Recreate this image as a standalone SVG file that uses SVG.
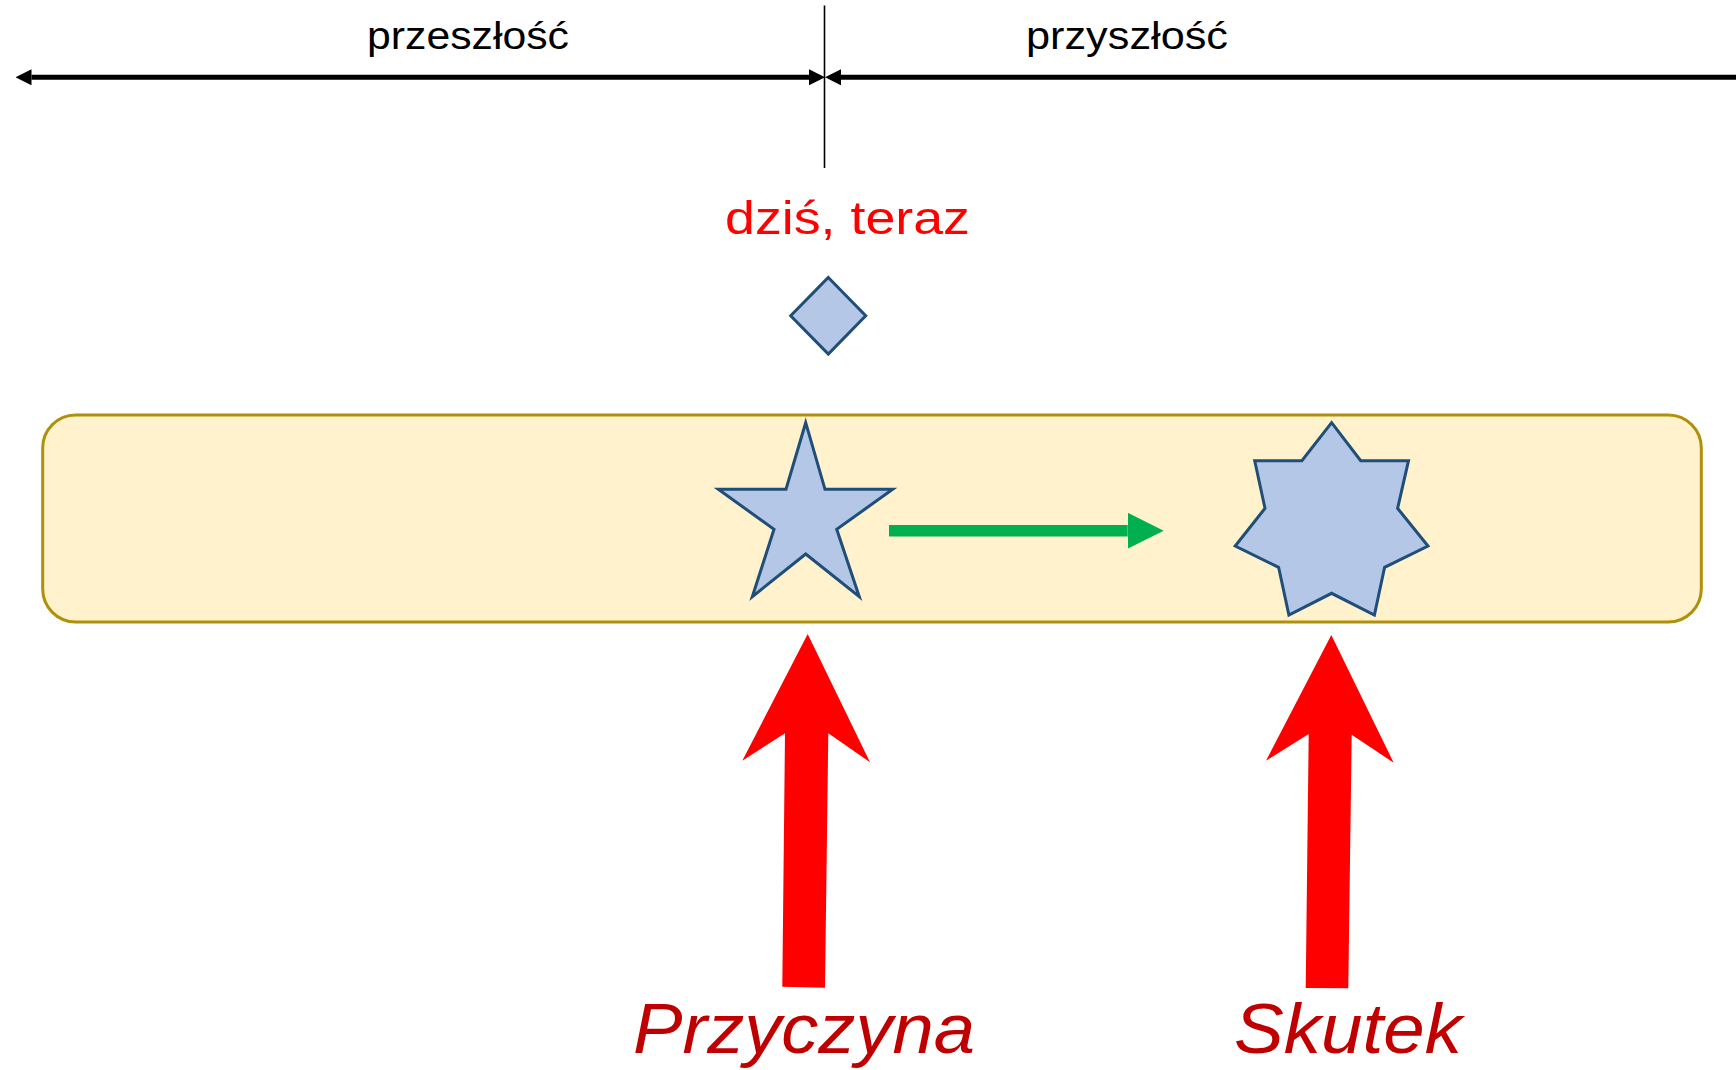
<svg xmlns="http://www.w3.org/2000/svg" width="1736" height="1070" viewBox="0 0 1736 1070">
<style>
.lbl{font-family:"Liberation Sans",Arial,sans-serif;}
.time{font-size:38px;fill:#000;}
.now{font-size:47px;fill:#FF0000;}
.big{font-size:70px;font-style:italic;fill:#C00000;}
.shape{fill:#B4C7E7;stroke:#1F4E79;stroke-width:3;stroke-linejoin:miter;}
.red{fill:#FF0000;}
</style>
<defs>
<marker id="blk" viewBox="0 0 16 16" markerWidth="16" markerHeight="16" refX="0" refY="8" markerUnits="userSpaceOnUse" orient="auto-start-reverse">
<path d="M0,0 L16,8 L0,16 z" fill="#000"/>
</marker>
<marker id="grn" viewBox="0 0 36 36" markerWidth="36" markerHeight="36" refX="0" refY="18" markerUnits="userSpaceOnUse" orient="auto">
<path d="M0,0 L36,18 L0,36 z" fill="#00B050"/>
</marker>
</defs>
<rect width="1736" height="1070" fill="#FFFFFF"/>

<g id="timeline">
<line x1="824.5" y1="5.5" x2="824.5" y2="168" stroke="#000" stroke-width="1.6"/>
<text class="lbl time" x="367" y="49" textLength="202" lengthAdjust="spacingAndGlyphs">przeszłość</text>
<text class="lbl time" x="1026" y="49" textLength="202" lengthAdjust="spacingAndGlyphs">przyszłość</text>
</g>

<g id="now">
<text class="lbl now" x="725" y="234" textLength="245" lengthAdjust="spacingAndGlyphs">dziś, teraz</text>
<polygon class="shape" points="828.3,277.5 865.7,315.7 828.3,354 790.7,315.7"/>
</g>

<g id="band">
<rect x="42.7" y="415" width="1658.6" height="207" rx="33" ry="33" fill="#FFF2CC" stroke="#B08F0A" stroke-width="3"/>
</g>

<g id="star5">
<polygon class="shape" points="805.7,422.7 825,489.3 892.7,489.3 836.7,529.3 859.3,596.7 805.7,554 752.3,596.7 774,529.3 718.3,489.3 786,489.3"/>
</g>

<g id="star7">
<polygon class="shape" points="1331.6,422.7 1360.7,460.7 1408.5,460.7 1397.6,508.3 1428,546 1384.6,567.3 1374.4,615 1331.6,593.3 1288.9,615 1278.6,567.3 1235.2,546 1265,508.3 1254.7,460.7 1301.9,460.7"/>
</g>

<g id="przyczyna">
<polygon class="red" points="807.7,634 870,762.3 828.3,733.3 825,987.7 782.3,986.7 785,733.3 742.3,760.7"/>
<text class="lbl big" x="633" y="1053" textLength="342" lengthAdjust="spacingAndGlyphs">Przyczyna</text>
</g>

<g id="skutek">
<polygon class="red" points="1331.3,635 1393.7,762.7 1351.7,734.7 1348.3,988.3 1305.7,988 1308.7,734 1266,760.7"/>
<text class="lbl big" x="1234" y="1053" textLength="228" lengthAdjust="spacingAndGlyphs">Skutek</text>
</g>

<g id="connectors">
<path d="M31.5,77.3 L809,77.3" stroke="#000" stroke-width="5" fill="none" marker-start="url(#blk)" marker-end="url(#blk)"/>
<path d="M841,77.3 L1736,77.3" stroke="#000" stroke-width="5" fill="none" marker-start="url(#blk)"/>
<path d="M889,530.7 L1127.7,530.7" stroke="#00B050" stroke-width="11.5" fill="none" marker-end="url(#grn)"/>
</g>
</svg>
